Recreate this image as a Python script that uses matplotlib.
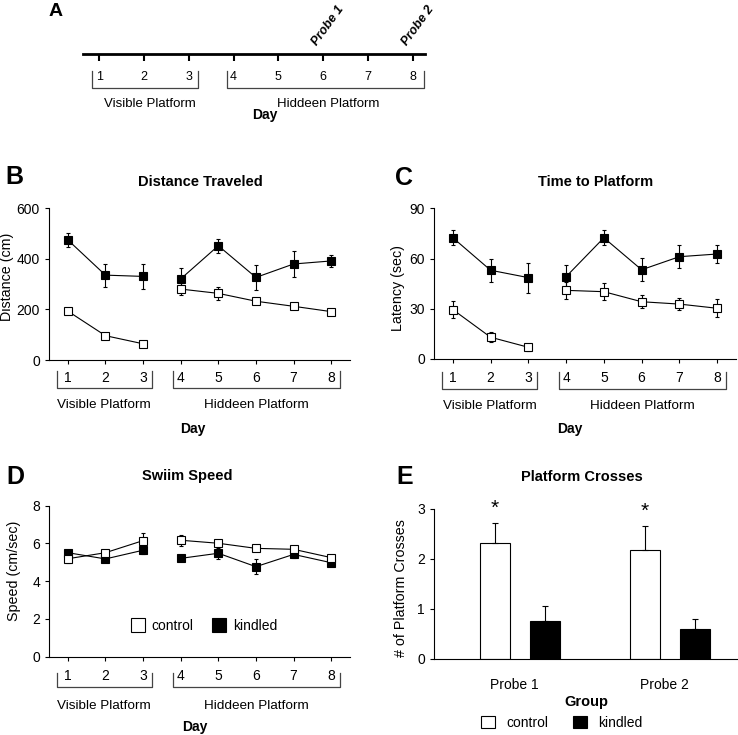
import numpy as np
import matplotlib
matplotlib.use("Agg")
import matplotlib.pyplot as plt
from matplotlib.lines import Line2D
from matplotlib.patches import Patch

plt.rcParams['font.family'] = ['Liberation Sans', 'DejaVu Sans']

# Data
days = np.arange(1, 9)
group_names = ["Visible Platform", "Hiddeen Platform"]
group_span = [(0.71, 3.23), (3.80, 8.23)]

dist_kindled = [474, 335, 330, 320, 451, 326, 379, 391]
dist_kindled_err = [27, 45, 50, 42, 28, 48, 50, 23]
dist_control = [193, 96, 64, 280, 263, 232, 212, 191]
dist_control_err = [8, 7, 6, 25, 25, 10, 8, 8]

lat_kindled = [72.4, 53.0, 48.6, 49.2, 72.4, 53.3, 61.1, 62.7]
lat_kindled_err = [4.5, 7, 9, 7, 4.5, 7, 7, 5.6]
lat_control = [29.5, 13.0, 7.0, 41.0, 40.2, 34.2, 32.8, 30.3]
lat_control_err = [5, 3, 2, 5, 5, 4, 3.5, 5.3]

spd_kindled = [5.51, 5.18, 5.64, 5.21, 5.48, 4.77, 5.42, 4.98]
spd_kindled_err = [0.12, 0.12, 0.2, 0.15, 0.3, 0.4, 0.2, 0.2]
spd_control = [5.19, 5.51, 6.15, 6.17, 6.01, 5.74, 5.69, 5.25]
spd_control_err = [0.25, 0.15, 0.4, 0.3, 0.12, 0.1, 0.12, 0.12]

probes = ["Probe 1", "Probe 2"]
cross_control = [2.33, 2.19]
cross_control_err = [0.40, 0.47]
cross_kindled = [0.77, 0.61]
cross_kindled_err = [0.30, 0.20]

W, H = 738, 735
fig = plt.figure(figsize=(W / 100, H / 100), dpi=100)


def rect(x0, y0, x1, y1):
    # pixel box (top-left origin) -> figure fraction
    return [x0 / W, 1 - y1 / H, (x1 - x0) / W, (y1 - y0) / H]


def ftext(x, y, s, **kw):
    fig.text(x / W, 1 - y / H, s, **kw)


def series(ax, y, err, face, ms=5.5):
    for sl in (slice(0, 3), slice(3, 8)):
        ax.errorbar(days[sl], np.array(y)[sl], yerr=np.array(err)[sl], fmt='-s',
                    color='black', mfc=face, mec='black', ms=ms, lw=0.8,
                    elinewidth=0.8, capsize=1.6, capthick=0.8, mew=0.8)


def day_axes(ax, pad, br_top, br_bot, lab_y, day_y, day_x):
    ax.set_xlim(0.5, 8.5)
    ax.set_xticks(days)
    ax.spines[['top', 'right']].set_visible(False)
    ax.tick_params(direction='out', length=3, width=0.8, labelsize=10)
    ax.tick_params(axis='x', pad=pad)
    tr = ax.get_xaxis_transform()
    for (x0, x1), name in zip(group_span, group_names):
        ax.plot([x0, x0, x1, x1], [br_top, br_bot, br_bot, br_top], transform=tr,
                clip_on=False, color='#444444', lw=0.9)
        ax.text((x0 + x1) / 2, lab_y, name, transform=tr, ha='center', va='center',
                fontsize=9.7)
    ax.text(day_x, day_y, "Day", transform=tr, ha='center', va='center',
            fontsize=10, fontweight='bold')


# ---- Panel A: timeline ----
axA = fig.add_axes(rect(83, 14.3, 425, 54.3))
axA.set_xlim(0.636, 8.275)
axA.set_ylim(0, 40)
axA.spines[['top', 'right', 'left']].set_visible(False)
axA.spines['bottom'].set_linewidth(2)
axA.set_yticks([])
axA.set_xticks(days)
axA.tick_params(axis='x', direction='out', length=5, width=1.5, pad=7, labelsize=9)
axA.patch.set_alpha(0)
for (x0, x1), name in zip([(0.844, 3.205), (3.846, 8.26)], group_names):
    axA.plot([x0, x0, x1, x1], [-16.4, -34, -34, -16.4], color='#444444', lw=0.9,
             clip_on=False)
    axA.text((x0 + x1) / 2 + (0.1 if name.startswith("V") else 0.05), -50, name,
             ha='center', va='center', fontsize=9.5)
axA.text(4.7, -61, "Day", ha='center', va='center', fontsize=10, fontweight='bold')
for d, name in [(6, "Probe 1"), (8, "Probe 2")]:
    axA.text(d - 0.08, 7, name, rotation=54, rotation_mode='anchor', ha='left',
             va='bottom', fontsize=9, fontweight='bold', fontstyle='italic',
             clip_on=False)
ftext(56, 12, "A", fontsize=14, fontweight='bold', ha='center', va='center')

# ---- Panel B ----
axB = fig.add_axes(rect(49, 208, 350, 360))
series(axB, dist_kindled, dist_kindled_err, 'black')
series(axB, dist_control, dist_control_err, 'white')
axB.set_ylim(0, 600)
axB.set_yticks([0, 200, 400, 600])
axB.set_ylabel("Distance (cm)", fontsize=10.3)
axB.yaxis.set_label_coords(-0.116, 0.55)
day_axes(axB, 5, -0.07, -0.186, -0.296, -0.454, 4.33)
ftext(200, 182, "Distance Traveled", fontsize=10.5, fontweight='bold', ha='center', va='center')
ftext(14, 177, "B", fontsize=18, fontweight='bold', ha='center', va='center')

# ---- Panel C ----
axC = fig.add_axes(rect(434, 208.3, 736, 359))
series(axC, lat_kindled, lat_kindled_err, 'black')
series(axC, lat_control, lat_control_err, 'white')
axC.set_ylim(0, 90)
axC.set_yticks([0, 30, 60, 90])
axC.set_ylabel("Latency (sec)", fontsize=10.3)
axC.yaxis.set_label_coords(-0.096, 0.47)
day_axes(axC, 6, -0.084, -0.201, -0.31, -0.465, 4.1)
ftext(596, 182, "Time to Platform", fontsize=10.5, fontweight='bold', ha='center', va='center')
ftext(404, 178, "C", fontsize=18, fontweight='bold', ha='center', va='center')

# ---- Panel D ----
axD = fig.add_axes(rect(49, 505.7, 350, 656.7))
series(axD, spd_kindled, spd_kindled_err, 'black', ms=6)
series(axD, spd_control, spd_control_err, 'white', ms=6)
axD.set_ylim(0, 8)
axD.set_yticks([0, 2, 4, 6, 8])
axD.set_ylabel("Speed (cm/sec)", fontsize=10.3)
axD.yaxis.set_label_coords(-0.093, 0.569)
day_axes(axD, 6, -0.11, -0.203, -0.326, -0.464, 4.37)
handles = [Line2D([], [], ls='none', marker='s', ms=10, mfc='white', mec='black', mew=0.8),
           Line2D([], [], ls='none', marker='s', ms=10, mfc='black', mec='black', mew=0.8)]
axD.legend(handles, ["control", "kindled"], ncol=2, frameon=False, loc='center',
           bbox_to_anchor=(0.515, 0.205), fontsize=10, handlelength=1.0,
           handletextpad=0.5, columnspacing=1.3)
ftext(187, 476, "Swiim Speed", fontsize=10.5, fontweight='bold', ha='center', va='center')
ftext(15, 477, "D", fontsize=18, fontweight='bold', ha='center', va='center')

# ---- Panel E ----
axE = fig.add_axes(rect(434, 509, 738, 659))
xg = np.arange(len(probes))
bw = 0.2
axE.bar(xg - 0.167, cross_control, bw, color='white', edgecolor='black', lw=0.8)
axE.bar(xg + 0.167, cross_kindled, bw, color='black', edgecolor='black', lw=0.8)
axE.errorbar(xg - 0.167, cross_control, yerr=[np.zeros(2), cross_control_err],
             fmt='none', ecolor='black', elinewidth=0.8, capsize=2.2, capthick=0.8)
axE.errorbar(xg + 0.167, cross_kindled, yerr=[np.zeros(2), cross_kindled_err],
             fmt='none', ecolor='black', elinewidth=0.8, capsize=2.2, capthick=0.8)
for i in range(len(probes)):
    axE.text(xg[i] - 0.167, cross_control[i] + cross_control_err[i] + 0.1, "*",
             ha='center', va='bottom', fontsize=15)
axE.set_xlim(-0.573, 1.453)
axE.set_ylim(0, 3)
axE.set_yticks([0, 1, 2, 3])
axE.set_xticks(xg - 0.04)
axE.set_xticklabels(probes)
axE.spines[['top', 'right']].set_visible(False)
axE.tick_params(direction='out', length=3, width=0.8, labelsize=10)
axE.tick_params(axis='x', length=0, pad=14)
axE.set_ylabel("# of Platform Crosses", fontsize=10.3)
axE.yaxis.set_label_coords(-0.086, 0.473)
axE.set_xlabel("Group", fontsize=10.5, fontweight='bold', labelpad=2)
axE.legend([Patch(facecolor='white', edgecolor='black', lw=0.8),
            Patch(facecolor='black', edgecolor='black', lw=0.8)],
           ["control", "kindled"], ncol=2, frameon=False, loc='center',
           bbox_to_anchor=(0.42, -0.425), fontsize=10, handlelength=1.0,
           handleheight=1.0, handletextpad=0.8, columnspacing=1.8)
ftext(582, 477, "Platform Crosses", fontsize=10.5, fontweight='bold', ha='center', va='center')
ftext(405, 477, "E", fontsize=18, fontweight='bold', ha='center', va='center')

fig.savefig("out.png", dpi=100)
